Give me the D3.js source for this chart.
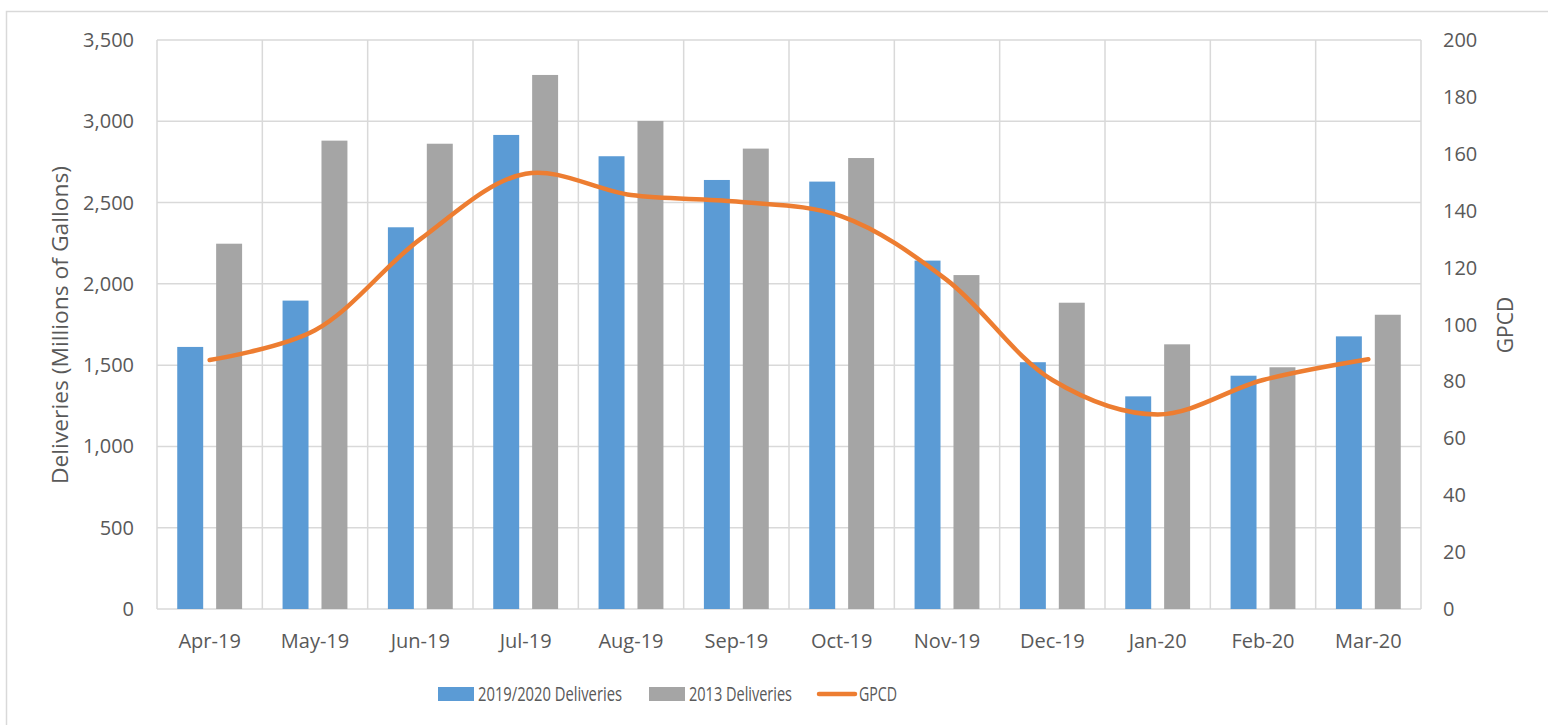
<!DOCTYPE html>
<html>
<head>
<meta charset="utf-8">
<script src="https://cdn.jsdelivr.net/npm/d3@7"></script>
<style>
  body { margin: 0; background: #fff; }
  text { font-family: "Open Sans", sans-serif; fill: #595959; }
</style>
</head>
<body>
<div id="chart"></div>
<script>
// data
const months = ["Apr-19", "May-19", "Jun-19", "Jul-19", "Aug-19", "Sep-19",
                "Oct-19", "Nov-19", "Dec-19", "Jan-20", "Feb-20", "Mar-20"];
const deliveries2019 = [1612, 1897, 2348, 2916, 2785, 2639, 2629, 2143, 1518, 1308, 1435, 1677];
const deliveries2013 = [2247, 2881, 2862, 3285, 3002, 2832, 2774, 2054, 1884, 1628, 1487, 1810];
const gpcd = [87.5, 98, 130, 153, 145.5, 143.2, 138, 115.6, 80.5, 68.4, 80.5, 87.8];
const leftTicks = [0, 500, 1000, 1500, 2000, 2500, 3000, 3500];
const rightTicks = [0, 20, 40, 60, 80, 100, 120, 140, 160, 180, 200];

const W = 1548, H = 725;
const margin = { top: 40, right: 127, bottom: 116, left: 157 };
const width = W - margin.left - margin.right;
const height = H - margin.top - margin.bottom;

const svg = d3.select("#chart").append("svg")
    .attr("width", W)
    .attr("height", H);

// outer chart border (only left/top visible in frame)
svg.append("rect")
    .attr("x", 6.5).attr("y", 11.5)
    .attr("width", W).attr("height", H)
    .attr("fill", "none")
    .attr("stroke", "#d9d9d9")
    .attr("stroke-width", 1.5);

const g = svg.append("g")
    .attr("transform", `translate(${margin.left}, ${margin.top})`);

const x = d3.scaleBand().domain(months).range([0, width]).padding(0);
const yL = d3.scaleLinear().domain([0, 3500]).range([height, 0]);
const yR = d3.scaleLinear().domain([0, 200]).range([height, 0]);

// horizontal gridlines
g.selectAll(".hgrid")
    .data(leftTicks)
    .enter().append("line")
    .attr("x1", 0).attr("x2", width)
    .attr("y1", d => yL(d)).attr("y2", d => yL(d))
    .attr("stroke", "#d9d9d9").attr("stroke-width", 1.5);

// vertical gridlines on category boundaries
const bounds = months.map(m => x(m)).concat([width]);
g.selectAll(".vgrid")
    .data(bounds)
    .enter().append("line")
    .attr("x1", d => d).attr("x2", d => d)
    .attr("y1", 0).attr("y2", height)
    .attr("stroke", "#d9d9d9").attr("stroke-width", 1.5);

// bars: 2 series inside each band
const inner = d3.scaleBand()
    .domain(["a", "b"])
    .range([0, x.bandwidth()])
    .paddingInner(0.333)
    .paddingOuter(0.52);

g.selectAll(".bar2019")
    .data(deliveries2019)
    .enter().append("rect")
    .attr("x", (d, i) => x(months[i]) + inner("a"))
    .attr("y", d => yL(d))
    .attr("width", inner.bandwidth())
    .attr("height", d => height - yL(d))
    .attr("fill", "#5b9bd5");

g.selectAll(".bar2013")
    .data(deliveries2013)
    .enter().append("rect")
    .attr("x", (d, i) => x(months[i]) + inner("b"))
    .attr("y", d => yL(d))
    .attr("width", inner.bandwidth())
    .attr("height", d => height - yL(d))
    .attr("fill", "#a5a5a5");

// GPCD line
const line = d3.line()
    .x((d, i) => x(months[i]) + x.bandwidth() / 2)
    .y(d => yR(d))
    .curve(d3.curveCatmullRom.alpha(0.5));

g.append("path")
    .datum(gpcd)
    .attr("d", line)
    .attr("fill", "none")
    .attr("stroke", "#ed7d31")
    .attr("stroke-width", 4.5)
    .attr("stroke-linecap", "round");

// left axis labels
g.selectAll(".ltick")
    .data(leftTicks)
    .enter().append("text")
    .attr("x", -23)
    .attr("y", d => yL(d))
    .attr("dy", "0.35em")
    .attr("text-anchor", "end")
    .style("font-size", "20px")
    .text(d => d3.format(",")(d));

// right axis labels
g.selectAll(".rtick")
    .data(rightTicks)
    .enter().append("text")
    .attr("x", width + 22)
    .attr("y", d => yR(d))
    .attr("dy", "0.35em")
    .style("font-size", "20px")
    .text(d => d);

// category labels
g.selectAll(".xlab")
    .data(months)
    .enter().append("text")
    .attr("x", d => x(d) + x.bandwidth() / 2)
    .attr("y", height + 32)
    .attr("dy", "0.35em")
    .attr("text-anchor", "middle")
    .style("font-size", "20px")
    .text(d => d);

// axis titles
svg.append("text")
    .attr("transform", `translate(68, 325) rotate(-90)`)
    .attr("text-anchor", "middle")
    .attr("textLength", 318)
    .attr("lengthAdjust", "spacingAndGlyphs")
    .style("font-size", "21px")
    .text("Deliveries (Millions of Gallons)");

svg.append("text")
    .attr("transform", `translate(1513, 325) rotate(-90)`)
    .attr("text-anchor", "middle")
    .style("font-size", "21px")
    .text("GPCD");

// legend
const legendY = 694;
const legendItems = [
    { label: "2019/2020 Deliveries", color: "#5b9bd5", type: "rect", sx: 438, tx: 478, tw: 144 },
    { label: "2013 Deliveries", color: "#a5a5a5", type: "rect", sx: 649, tx: 689, tw: 103 },
    { label: "GPCD", color: "#ed7d31", type: "line", sx: 818, tx: 859, tw: 38 }
];

const legend = svg.append("g").attr("class", "legend");
legendItems.forEach(item => {
    if (item.type === "rect") {
        legend.append("rect")
            .attr("x", item.sx).attr("y", legendY - 7)
            .attr("width", 36).attr("height", 14)
            .attr("fill", item.color);
    } else {
        legend.append("line")
            .attr("x1", item.sx + 1).attr("x2", item.sx + 37)
            .attr("y1", legendY).attr("y2", legendY)
            .attr("stroke", item.color)
            .attr("stroke-width", 4.5)
            .attr("stroke-linecap", "round");
    }
    legend.append("text")
        .attr("x", item.tx)
        .attr("y", legendY)
        .attr("dy", "0.35em")
        .attr("textLength", item.tw)
        .attr("lengthAdjust", "spacingAndGlyphs")
        .style("font-size", "20px")
        .text(item.label);
});
</script>
</body>
</html>
